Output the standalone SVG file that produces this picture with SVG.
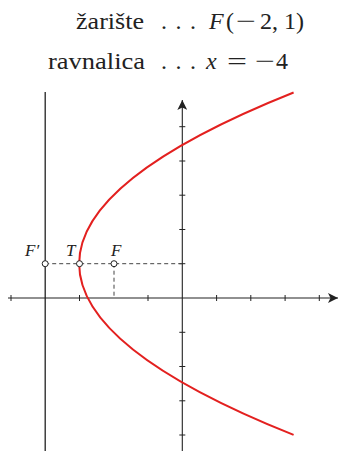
<svg xmlns="http://www.w3.org/2000/svg" width="339" height="453" viewBox="0 0 339 453">
<style>
.t{font-family:"Liberation Serif","Times New Roman",serif;font-size:24px;fill:#222}
.i{font-style:italic}
.lb{font-family:"Liberation Serif","Times New Roman",serif;font-size:17px;font-style:italic;fill:#222}
.ax{stroke:#222;stroke-width:1.1;fill:none}
.tk{stroke:#222;stroke-width:1}
.ds{stroke:#444;stroke-width:1;stroke-dasharray:4,3;fill:none}
.pt{fill:#fff;stroke:#222;stroke-width:1}
.dot{fill:#222}
</style>
<defs>
<marker id="arr" viewBox="0 0 10 10" refX="10" refY="5" markerWidth="10" markerHeight="10" markerUnits="userSpaceOnUse" orient="auto">
<path d="M0,0 L10,5 L0,10 L2.5,5 Z" fill="#222"/>
</marker>
</defs>
<g id="caption">
<text class="t" x="76" y="29" textLength="68" lengthAdjust="spacingAndGlyphs">žarište</text>
<text class="t" x="161" y="29">.</text>
<text class="t" x="175.5" y="29">.</text>
<text class="t" x="190" y="29">.</text>
<text class="t i" x="209" y="29">F</text>
<text class="t" x="226" y="29">(</text>
<text class="t" x="236" y="29" textLength="20" lengthAdjust="spacingAndGlyphs">−</text>
<text class="t" x="260" y="29">2,</text>
<text class="t" x="284" y="29">1)</text>
<text class="t" x="48" y="69" textLength="97" lengthAdjust="spacingAndGlyphs">ravnalica</text>
<text class="t" x="161" y="69">.</text>
<text class="t" x="175.5" y="69">.</text>
<text class="t" x="190" y="69">.</text>
<text class="t i" x="206" y="69">x</text>
<text class="t" x="227" y="69" textLength="20" lengthAdjust="spacingAndGlyphs">=</text>
<text class="t" x="255" y="69" textLength="20" lengthAdjust="spacingAndGlyphs">−</text>
<text class="t" x="276" y="69">4</text>
</g>
<g id="connectors">
<line class="ax" x1="8" y1="298" x2="338" y2="298" marker-end="url(#arr)"/>
<line class="ax" x1="182.3" y1="451" x2="182.3" y2="100" marker-end="url(#arr)"/>
<g class="tk">
<line x1="11" y1="295" x2="11" y2="301"/>
<line x1="79.5" y1="295" x2="79.5" y2="301"/>
<line x1="148" y1="295" x2="148" y2="301"/>
<line x1="216.6" y1="295" x2="216.6" y2="301"/>
<line x1="250.8" y1="295" x2="250.8" y2="301"/>
<line x1="285.1" y1="295" x2="285.1" y2="301"/>
<line x1="319.3" y1="295" x2="319.3" y2="301"/>
<line x1="179.3" y1="126.7" x2="185.3" y2="126.7"/>
<line x1="179.3" y1="161" x2="185.3" y2="161"/>
<line x1="179.3" y1="195.2" x2="185.3" y2="195.2"/>
<line x1="179.3" y1="229.5" x2="185.3" y2="229.5"/>
<line x1="179.3" y1="263.7" x2="185.3" y2="263.7"/>
<line x1="179.3" y1="332.3" x2="185.3" y2="332.3"/>
<line x1="179.3" y1="366.5" x2="185.3" y2="366.5"/>
<line x1="179.3" y1="400.8" x2="185.3" y2="400.8"/>
<line x1="179.3" y1="435" x2="185.3" y2="435"/>
</g>
<line id="directrix" x1="45.2" y1="92" x2="45.2" y2="451" stroke="#222" stroke-width="1.3"/>
<path class="ds" d="M45.2,263.7 H182.3"/>
<path class="ds" d="M114,263.7 V298"/>
<path id="parabola" d="M293.6,92.5 Q-135.3,263.7 293.6,434.9" fill="none" stroke="#e3201f" stroke-width="2"/>
</g>
<g id="Fprime">
<circle class="pt" cx="45.2" cy="263.7" r="3"/>
<text class="lb" x="25" y="256">F′</text>
</g>
<g id="T">
<circle class="pt" cx="79.5" cy="263.7" r="3"/>
<text class="lb" x="66" y="256">T</text>
</g>
<g id="F">
<circle class="pt" cx="114" cy="263.7" r="3"/>
<text class="lb" x="111" y="256">F</text>
</g>
</svg>
